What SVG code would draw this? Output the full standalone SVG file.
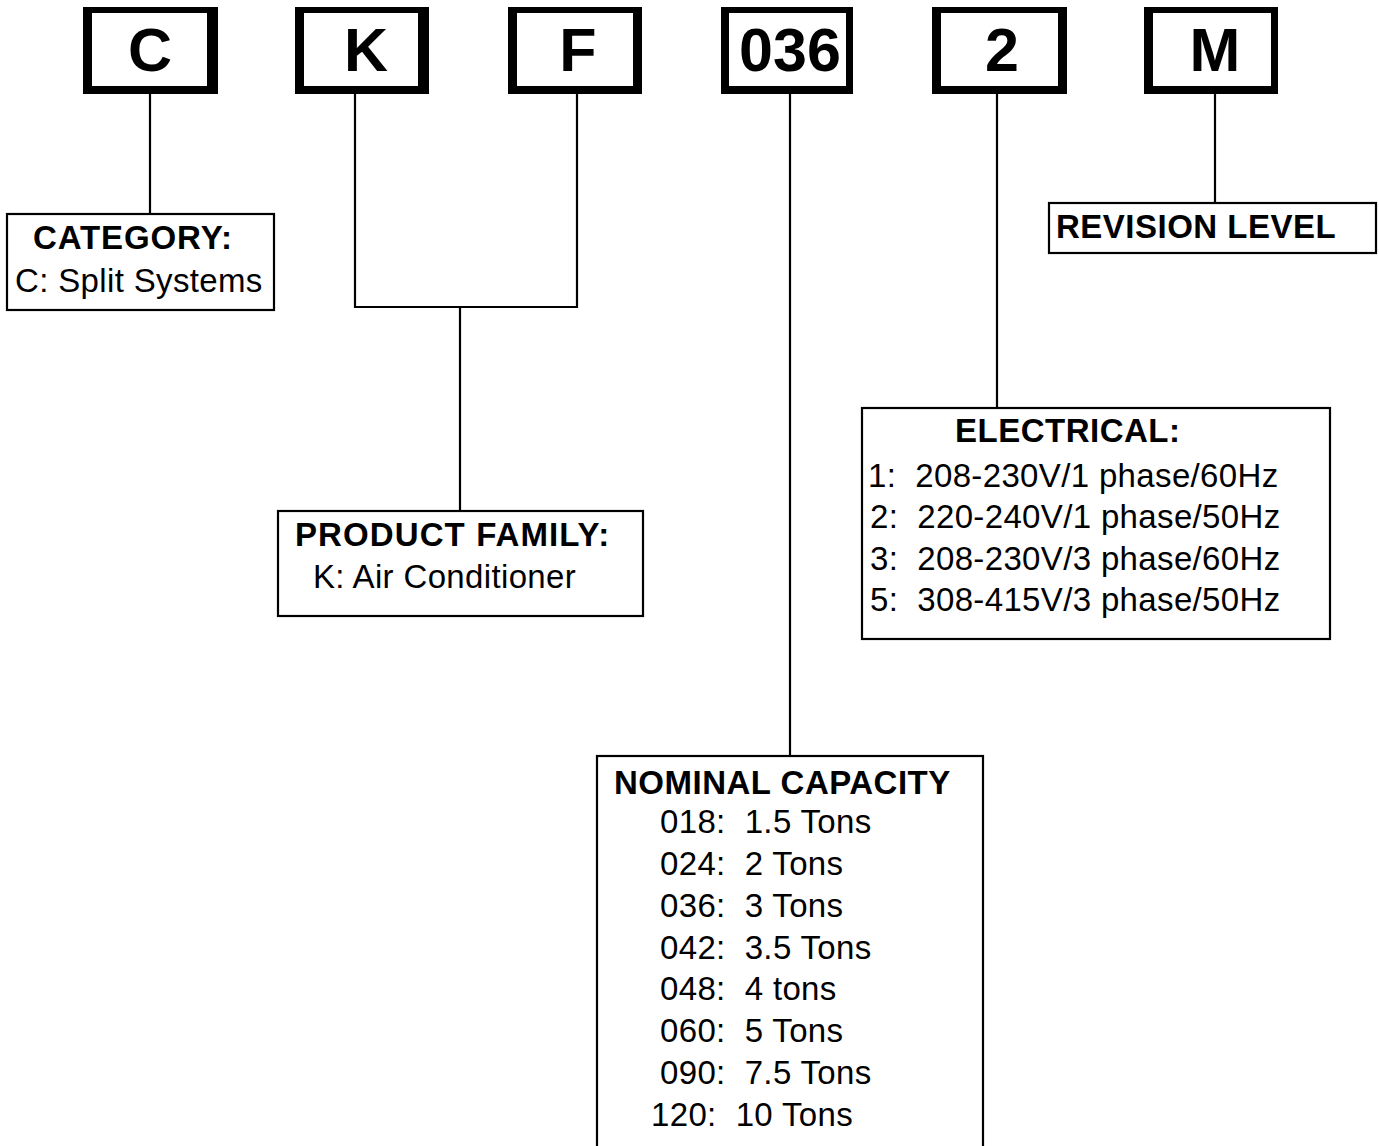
<svg xmlns="http://www.w3.org/2000/svg" width="1379" height="1146" viewBox="0 0 1379 1146">
<style>
  text { font-family: "Liberation Sans", Arial, sans-serif; fill: #000; white-space: pre; }
  .big { font-size: 61px; font-weight: bold; text-anchor: middle; }
  .hd { font-size: 33px; font-weight: bold; letter-spacing: 0.5px; }
  .tx { font-size: 33px; letter-spacing: 0.35px; }
  .frame { fill: #000; }
  .inner { fill: #fff; }
  .box { fill: #fff; stroke: #000; stroke-width: 2.2; }
  .conn { fill: none; stroke: #000; stroke-width: 2.2; }
</style>
<rect x="0" y="0" width="1379" height="1146" fill="#fff"/>

<g id="connectors">
  <line class="conn" x1="150" y1="94" x2="150" y2="214"/>
  <polyline class="conn" points="355,94 355,307 577,307 577,94"/>
  <line class="conn" x1="460" y1="307" x2="460" y2="511"/>
  <line class="conn" x1="790" y1="94" x2="790" y2="756"/>
  <line class="conn" x1="997" y1="94" x2="997" y2="408"/>
  <line class="conn" x1="1215" y1="94" x2="1215" y2="203"/>
</g>

<g id="code-C">
  <rect class="frame" x="83" y="7" width="135" height="87"/>
  <rect class="inner" x="92" y="13" width="115" height="73"/>
  <text class="big" x="150" y="71">C</text>
</g>
<g id="code-K">
  <rect class="frame" x="295" y="7" width="134" height="87"/>
  <rect class="inner" x="304" y="13" width="114" height="73"/>
  <text class="big" x="366" y="71">K</text>
</g>
<g id="code-F">
  <rect class="frame" x="508" y="7" width="134" height="87"/>
  <rect class="inner" x="517" y="13" width="116" height="73"/>
  <text class="big" x="578" y="71">F</text>
</g>
<g id="code-036">
  <rect class="frame" x="721" y="7" width="132" height="87"/>
  <rect class="inner" x="729" y="13" width="117" height="73"/>
  <text class="big" x="790" y="71">036</text>
</g>
<g id="code-2">
  <rect class="frame" x="932" y="7" width="135" height="87"/>
  <rect class="inner" x="941" y="13" width="117" height="73"/>
  <text class="big" x="1002" y="71">2</text>
</g>
<g id="code-M">
  <rect class="frame" x="1144" y="7" width="134" height="87"/>
  <rect class="inner" x="1153" y="13" width="118" height="73"/>
  <text class="big" x="1215" y="71">M</text>
</g>

<g id="category">
  <rect class="box" x="7" y="214" width="267" height="96"/>
  <text class="hd" x="33" y="249" style="letter-spacing:0.9px">CATEGORY:</text>
  <text class="tx" x="15" y="292">C: Split Systems</text>
</g>

<g id="product-family">
  <rect class="box" x="278" y="511" width="365" height="105"/>
  <text class="hd" x="295" y="546" style="letter-spacing:1.1px">PRODUCT FAMILY:</text>
  <text class="tx" x="313" y="588">K: Air Conditioner</text>
</g>

<g id="revision-level">
  <rect class="box" x="1049" y="203" width="327" height="50"/>
  <text class="hd" x="1056" y="238">REVISION LEVEL</text>
</g>

<g id="electrical">
  <rect class="box" x="862" y="408" width="468" height="231"/>
  <text class="hd" x="955" y="442">ELECTRICAL:</text>
  <text class="tx" x="868" y="487">1:  208-230V/1 phase/60Hz</text>
  <text class="tx" x="870" y="528">2:  220-240V/1 phase/50Hz</text>
  <text class="tx" x="870" y="570">3:  208-230V/3 phase/60Hz</text>
  <text class="tx" x="870" y="611">5:  308-415V/3 phase/50Hz</text>
</g>

<g id="nominal-capacity">
  <rect class="box" x="597" y="756" width="386" height="395"/>
  <text class="hd" x="614" y="794">NOMINAL CAPACITY</text>
  <text class="tx" x="660" y="833">018:  1.5 Tons</text>
  <text class="tx" x="660" y="875">024:  2 Tons</text>
  <text class="tx" x="660" y="917">036:  3 Tons</text>
  <text class="tx" x="660" y="959">042:  3.5 Tons</text>
  <text class="tx" x="660" y="1000">048:  4 tons</text>
  <text class="tx" x="660" y="1042">060:  5 Tons</text>
  <text class="tx" x="660" y="1084">090:  7.5 Tons</text>
  <text class="tx" x="651" y="1126">120:  10 Tons</text>
</g>
</svg>
